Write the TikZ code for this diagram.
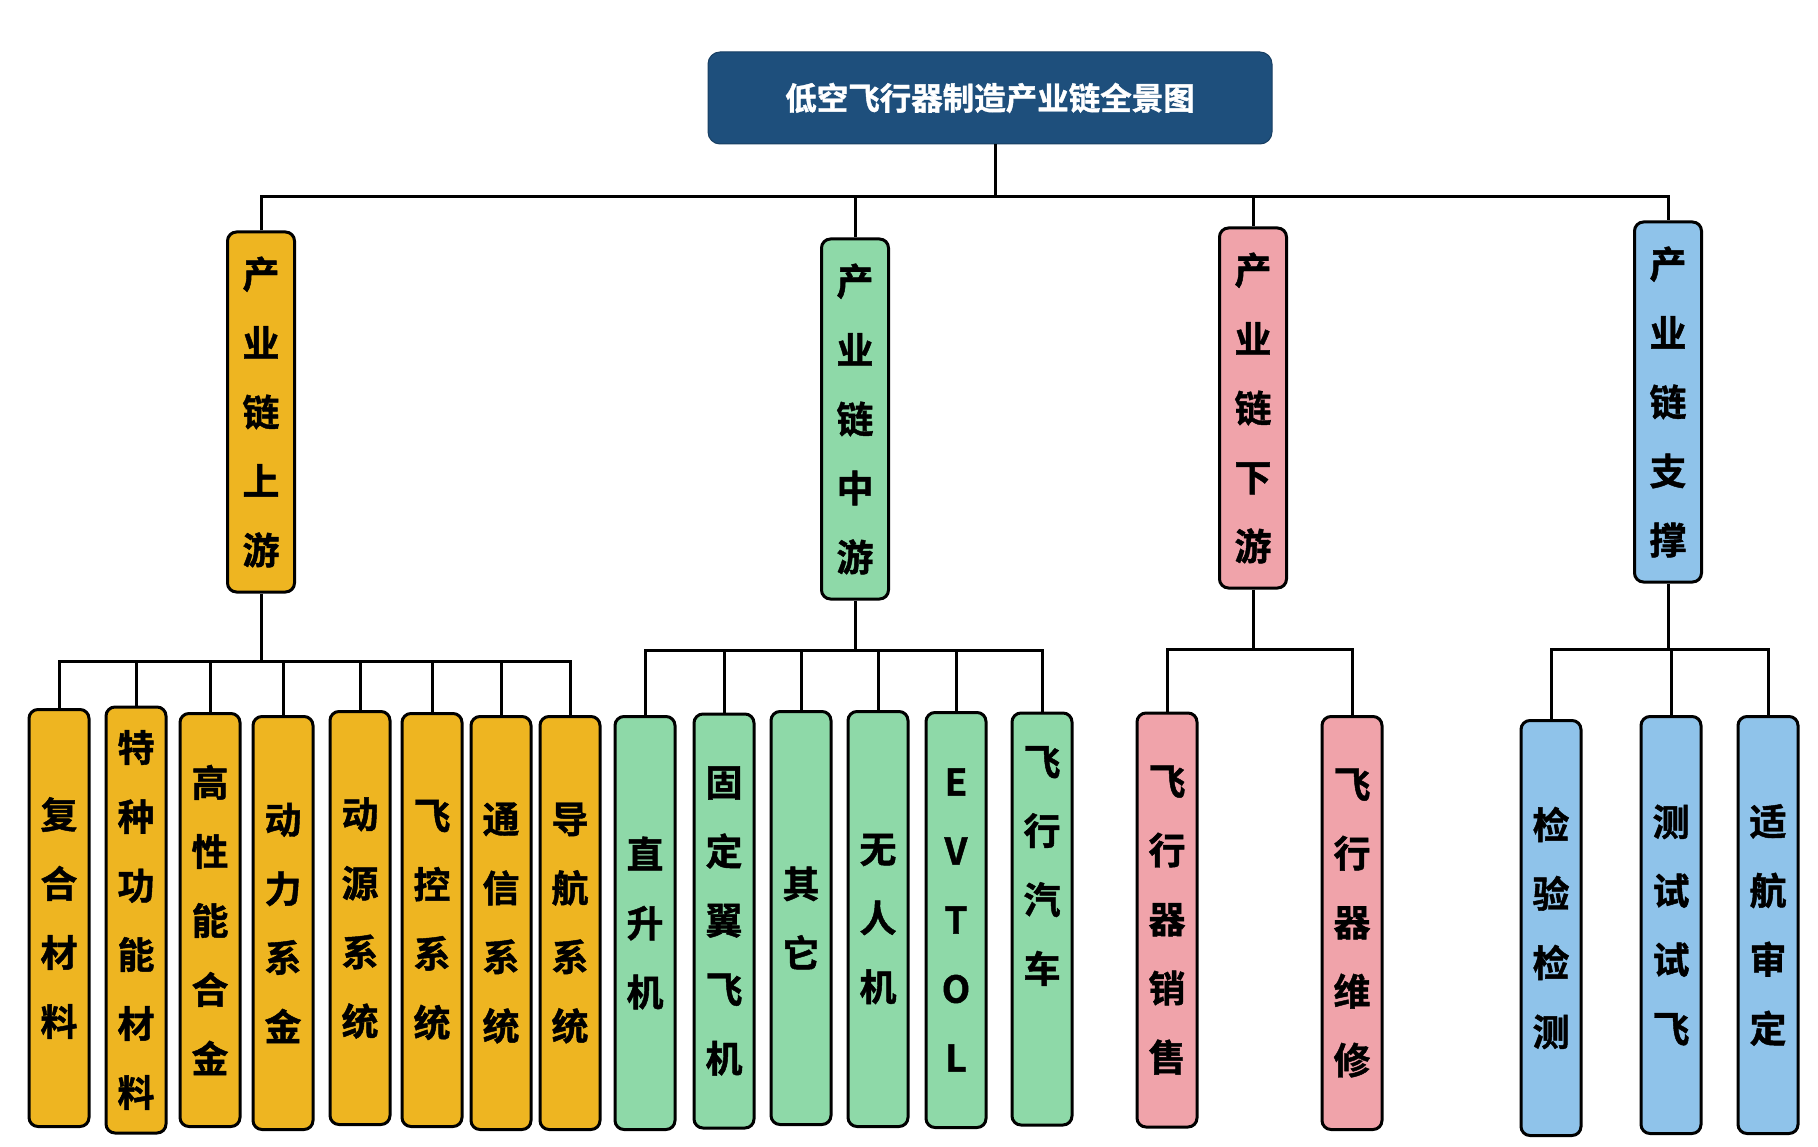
\documentclass[tikz,border=0pt]{standalone}
\usepackage{fontspec}
\newfontfamily\cjk[BoldFont={Noto Sans CJK SC Bold},BoldFeatures={FakeBold=1.2}]{Noto Sans CJK SC}
\definecolor{gold}{HTML}{EEB521}
\definecolor{mint}{HTML}{8ED9A8}
\definecolor{rose}{HTML}{F0A3AA}
\definecolor{sky}{HTML}{8FC3EA}
\definecolor{navy}{HTML}{1E4F7C}
\tikzset{
  bar/.style={draw=black, line width=3pt, rounded corners=9pt, inner sep=0pt,
    align=center, font=\cjk\bfseries\fontsize{37}{69}\selectfont},
  head/.style={bar, minimum width=67pt, minimum height=360pt},
  leaf/.style={bar, minimum width=60pt},
  vtxt/.style={inner sep=0pt, align=center, font=\cjk\bfseries\fontsize{37}{69}\selectfont},
  link/.style={draw=black, line width=3pt},
}
\begin{document}
\begin{tikzpicture}[x=1pt,y=-1pt]
\fill[white] (0,0) rectangle (1818,1147);
\useasboundingbox (0,0) rectangle (1818,1147);

% title
\node[fill=navy, draw=navy!80!black, line width=1pt, rounded corners=12pt,
  minimum width=564pt, minimum height=92pt, text=white,
  font=\cjk\bfseries\fontsize{31.5}{31.5}\selectfont] (title) at (990,98)
  {低空飞行器制造产业链全景图};

% level 2
\node[head, fill=gold] (up)  at (261,412)  {产\\业\\链\\上\\游};
\node[head, fill=mint] (mid) at (855,419)  {产\\业\\链\\中\\游};
\node[head, fill=rose] (down) at (1253,408) {产\\业\\链\\下\\游};
\node[head, fill=sky]  (sup) at (1668,402) {产\\业\\链\\支\\撑};

% upstream leaves
\node[leaf, fill=gold, minimum height=417pt] (u1) at (59,918)  {复\\合\\材\\料};
\node[leaf, fill=gold, minimum height=426pt] (u2) at (136,920) {特\\种\\功\\能\\材\\料};
\node[leaf, fill=gold, minimum height=413pt] (u3) at (210,920) {高\\性\\能\\合\\金};
\node[leaf, fill=gold, minimum height=413pt] (u4) at (283,923) {动\\力\\系\\金};
\node[leaf, fill=gold, minimum height=413pt] (u5) at (360,918) {动\\源\\系\\统};
\node[leaf, fill=gold, minimum height=413pt] (u6) at (432,920) {飞\\控\\系\\统};
\node[leaf, fill=gold, minimum height=413pt] (u7) at (501,923) {通\\信\\系\\统};
\node[leaf, fill=gold, minimum height=413pt] (u8) at (570,923) {导\\航\\系\\统};

% midstream leaves
\node[leaf, fill=mint, minimum height=413pt] (m1) at (645,923) {直\\升\\机};
\node[leaf, fill=mint, minimum height=414pt] (m2) at (724,921) {固\\定\\翼\\飞\\机};
\node[leaf, fill=mint, minimum height=413pt] (m3) at (801,918) {其\\它};
\node[leaf, fill=mint, minimum height=415pt] (m4) at (878,919) {无\\人\\机};
\node[leaf, fill=mint, minimum height=415pt] (m5) at (956,920) {E\\V\\T\\O\\L};
\node[leaf, fill=mint, minimum height=412pt] (m6) at (1042,919) {};
\node[vtxt] (m6t) at (1042,866) {飞\\行\\汽\\车};

% downstream leaves
\node[leaf, fill=rose, minimum height=414pt] (d1) at (1167,920) {飞\\行\\器\\销\\售};
\node[leaf, fill=rose, minimum height=413pt] (d2) at (1352,923) {飞\\行\\器\\维\\修};

% support leaves
\node[leaf, fill=sky, minimum height=415pt] (s1) at (1551,928) {检\\验\\检\\测};
\node[leaf, fill=sky, minimum height=417pt] (s2) at (1671,925) {测\\试\\试\\飞};
\node[leaf, fill=sky, minimum height=417pt] (s3) at (1768,925) {适\\航\\审\\定};

% top connectors
\coordinate (b0) at (995,197);
\draw[link] (title.south -| b0) -- (b0);
\draw[link] (up.north) |- (b0) -| (sup.north);
\draw[link] (mid.north) -- (mid.north |- b0);
\draw[link] (down.north) -- (down.north |- b0);

% upstream bus
\coordinate (b1) at (0,661);
\draw[link] (up.south) -- (up.south |- b1);
\draw[link] (u1.north) |- (up.south |- b1) -| (u8.north);
\foreach \n in {u2,u3,u4,u5,u6,u7} \draw[link] (\n.north) -- (\n.north |- b1);

% midstream bus
\coordinate (b2) at (0,650);
\draw[link] (mid.south) -- (mid.south |- b2);
\draw[link] (m1.north) |- (mid.south |- b2) -| (m6.north);
\foreach \n in {m2,m3,m4,m5} \draw[link] (\n.north) -- (\n.north |- b2);

% downstream bus
\coordinate (b3) at (0,649);
\draw[link] (down.south) -- (down.south |- b3);
\draw[link] (d1.north) |- (down.south |- b3) -| (d2.north);

% support bus
\coordinate (b4) at (0,649);
\draw[link] (sup.south) -- (sup.south |- b4);
\draw[link] (s1.north) |- (sup.south |- b4) -| (s3.north);
\draw[link] (s2.north) -- (s2.north |- b4);
\end{tikzpicture}
\end{document}
